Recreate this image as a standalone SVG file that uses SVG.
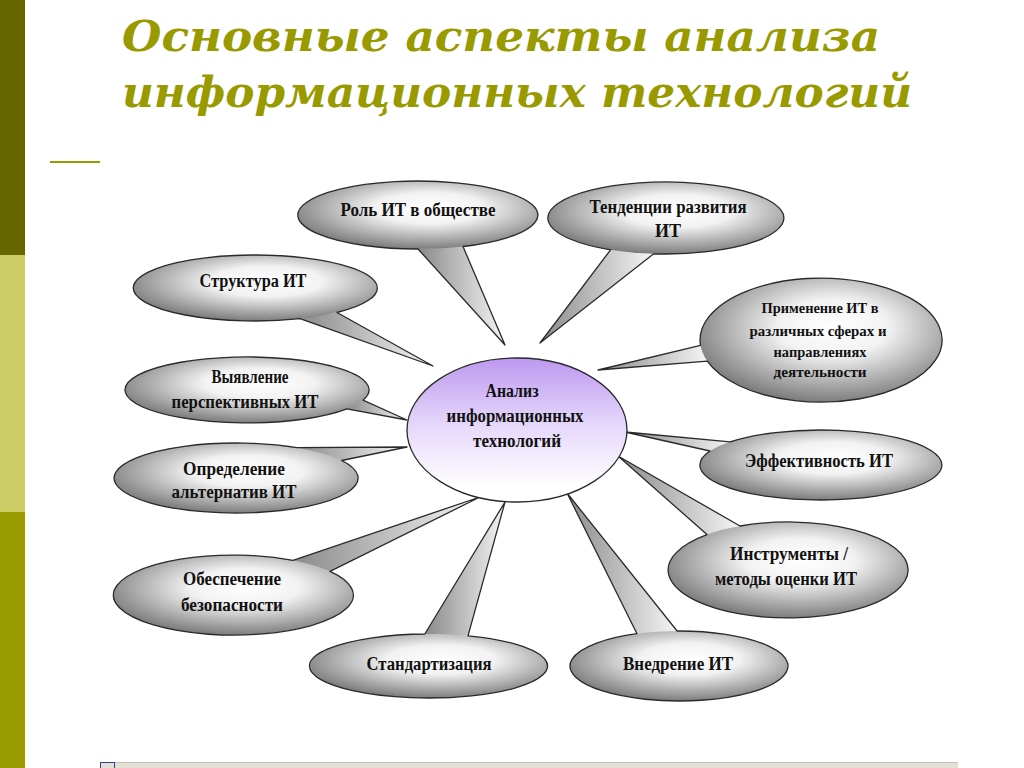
<svg xmlns="http://www.w3.org/2000/svg" width="1024" height="768" viewBox="0 0 1024 768">
<defs>
<radialGradient id="gCall" cx="0.55" cy="0.4" r="0.65">
<stop offset="0" stop-color="#ffffff"/>
<stop offset="0.35" stop-color="#f2f2f2"/>
<stop offset="1" stop-color="#6e6e6e"/>
</radialGradient>
<linearGradient id="gTail" x1="0" y1="0" x2="1" y2="0">
<stop offset="0" stop-color="#8a8a8a"/>
<stop offset="1" stop-color="#f5f5f5"/>
</linearGradient>
<linearGradient id="gCenter" x1="0" y1="0" x2="0" y2="1">
<stop offset="0" stop-color="#bd98f0"/>
<stop offset="0.45" stop-color="#e4d6fa"/>
<stop offset="0.9" stop-color="#ffffff"/>
</linearGradient>
<style>
.fill{fill:url(#gCall);stroke:none}
.tail{fill:url(#gTail);stroke:none}
.outline{fill:none;stroke:#2a2a2a;stroke-width:1.3;stroke-linejoin:round}
.lbl{font-family:"Liberation Serif","Times New Roman",serif;font-weight:bold;font-size:18px;fill:#111;text-anchor:middle}
.sm{font-size:14px}
.title{font-family:"DejaVu Serif",serif;font-weight:bold;font-style:italic;font-size:42px;fill:#999900}
</style>
</defs>
<rect width="1024" height="768" fill="#ffffff"/>
<rect x="0" y="0" width="25" height="255" fill="#666600"/>
<rect x="0" y="255" width="25" height="257" fill="#cccc66"/>
<rect x="0" y="512" width="25" height="256" fill="#999900"/>
<text class="title" x="122" y="51" textLength="758" lengthAdjust="spacingAndGlyphs">Основные аспекты анализа</text>
<text class="title" x="122" y="107" textLength="790" lengthAdjust="spacingAndGlyphs">информационных технологий</text>
<line x1="50" y1="162" x2="100" y2="162" stroke="#999900" stroke-width="2"/>

<g id="connectors"></g>

<g id="n-rol">
<polygon class="tail" points="463,246.5 505,345 418,249"/>
<ellipse class="fill" cx="418" cy="215" rx="120" ry="34"/>
<path class="outline" d="M463,246.5 L505,345 L418,249 A120,34 0 1 1 463,246.5 Z"/>
<text class="lbl" x="418" y="216" textLength="155" lengthAdjust="spacingAndGlyphs">Роль ИТ в обществе</text>
</g>

<g id="n-tend">
<polygon class="tail" points="653.7,253.8 540,343 610.6,249.8"/>
<ellipse class="fill" cx="666" cy="218" rx="118" ry="36"/>
<path class="outline" d="M653.7,253.8 L540,343 L610.6,249.8 A118,36 0 1 1 653.7,253.8 Z"/>
<text class="lbl" x="668" y="213" textLength="157" lengthAdjust="spacingAndGlyphs">Тенденции развития</text>
<text class="lbl" x="668" y="237">ИТ</text>
</g>

<g id="n-struct">
<polygon class="tail" points="337,312.5 433,366 300,318.7"/>
<ellipse class="fill" cx="255" cy="288" rx="122" ry="33"/>
<path class="outline" d="M337,312.5 L433,366 L300,318.7 A122,33 0 1 1 337,312.5 Z"/>
<text class="lbl" x="253" y="287" textLength="107" lengthAdjust="spacingAndGlyphs">Структура ИТ</text>
</g>

<g id="n-vyyav">
<polygon class="tail" points="363,400.2 407,420 346.9,408.9"/>
<ellipse class="fill" cx="247" cy="390" rx="122" ry="33"/>
<path class="outline" d="M363,400.2 L407,420 L346.9,408.9 A122,33 0 1 1 363,400.2 Z"/>
<text class="lbl" x="250" y="383" textLength="77" lengthAdjust="spacingAndGlyphs">Выявление</text>
<text class="lbl" x="245" y="408" textLength="147" lengthAdjust="spacingAndGlyphs">перспективных ИТ</text>
</g>

<g id="n-opred">
<polygon class="tail" points="297,447.7 407,447 341.7,460.5"/>
<ellipse class="fill" cx="236" cy="478" rx="122" ry="35"/>
<path class="outline" d="M297,447.7 L407,447 L341.7,460.5 A122,35 0 1 1 297,447.7 Z"/>
<text class="lbl" x="234" y="475" textLength="102" lengthAdjust="spacingAndGlyphs">Определение</text>
<text class="lbl" x="234" y="498" textLength="125" lengthAdjust="spacingAndGlyphs">альтернатив ИТ</text>
</g>

<g id="n-obesp">
<polygon class="tail" points="293,560.4 480,497 330,571.4"/>
<ellipse class="fill" cx="233" cy="595" rx="120" ry="40"/>
<path class="outline" d="M293,560.4 L480,497 L330,571.4 A120,40 0 1 1 293,560.4 Z"/>
<text class="lbl" x="232" y="585" textLength="98" lengthAdjust="spacingAndGlyphs">Обеспечение</text>
<text class="lbl" x="232" y="611" textLength="102" lengthAdjust="spacingAndGlyphs">безопасности</text>
</g>

<g id="n-stand">
<polygon class="tail" points="424.8,634 505,502 468,635.8"/>
<ellipse class="fill" cx="429" cy="666" rx="119" ry="32"/>
<path class="outline" d="M424.8,634 L505,502 L468,635.8 A119,32 0 1 1 424.8,634 Z"/>
<text class="lbl" x="429" y="670" textLength="125" lengthAdjust="spacingAndGlyphs">Стандартизация</text>
</g>

<g id="n-vnedr">
<polygon class="tail" points="637,633.7 567,493 677.1,631"/>
<ellipse class="fill" cx="679" cy="666" rx="109" ry="35"/>
<path class="outline" d="M637,633.7 L567,493 L677.1,631 A109,35 0 1 1 637,633.7 Z"/>
<text class="lbl" x="678" y="670" textLength="110" lengthAdjust="spacingAndGlyphs">Внедрение ИТ</text>
</g>

<g id="n-instr">
<polygon class="tail" points="707,534.6 618,456 740,526"/>
<ellipse class="fill" cx="788" cy="570" rx="120" ry="48"/>
<path class="outline" d="M707,534.6 L618,456 L740,526 A120,48 0 1 1 707,534.6 Z"/>
<text class="lbl" x="789" y="560" textLength="118" lengthAdjust="spacingAndGlyphs">Инструменты /</text>
<text class="lbl" x="786" y="585" textLength="142" lengthAdjust="spacingAndGlyphs">методы оценки ИТ</text>
</g>

<g id="n-effekt">
<polygon class="tail" points="710,451 625,432 730,441.9"/>
<ellipse class="fill" cx="821" cy="465" rx="121" ry="35"/>
<path class="outline" d="M710,451 L625,432 L730,441.9 A121,35 0 1 1 710,451 Z"/>
<text class="lbl" x="819" y="467" textLength="148" lengthAdjust="spacingAndGlyphs">Эффективность ИТ</text>
</g>

<g id="n-primen">
<polygon class="tail" points="707.3,361.2 598,370 700.5,345.4"/>
<ellipse class="fill" cx="821" cy="340" rx="121" ry="62"/>
<path class="outline" d="M707.3,361.2 L598,370 L700.5,345.4 A121,62 0 1 1 707.3,361.2 Z"/>
<text class="lbl sm" x="820" y="313" textLength="117" lengthAdjust="spacingAndGlyphs">Применение ИТ в</text>
<text class="lbl sm" x="818" y="336" textLength="137" lengthAdjust="spacingAndGlyphs">различных сферах и</text>
<text class="lbl sm" x="820" y="357" textLength="93" lengthAdjust="spacingAndGlyphs">направлениях</text>
<text class="lbl sm" x="820" y="377" textLength="93" lengthAdjust="spacingAndGlyphs">деятельности</text>
</g>

<g id="n-center">
<ellipse cx="517" cy="430" rx="110" ry="72" fill="url(#gCenter)" stroke="#2a2a2a" stroke-width="1.3"/>
<text class="lbl" x="512" y="397" textLength="53" lengthAdjust="spacingAndGlyphs">Анализ</text>
<text class="lbl" x="515" y="422" textLength="137" lengthAdjust="spacingAndGlyphs">информационных</text>
<text class="lbl" x="517" y="447" textLength="88" lengthAdjust="spacingAndGlyphs">технологий</text>
</g>

<rect x="100" y="762" width="858" height="6" fill="#e4e0d8"/>
<line x1="100" y1="762.5" x2="958" y2="762.5" stroke="#c4c0b8" stroke-width="1"/>
<rect x="100.5" y="762.5" width="14" height="6" fill="none" stroke="#334488" stroke-width="1"/>
</svg>
